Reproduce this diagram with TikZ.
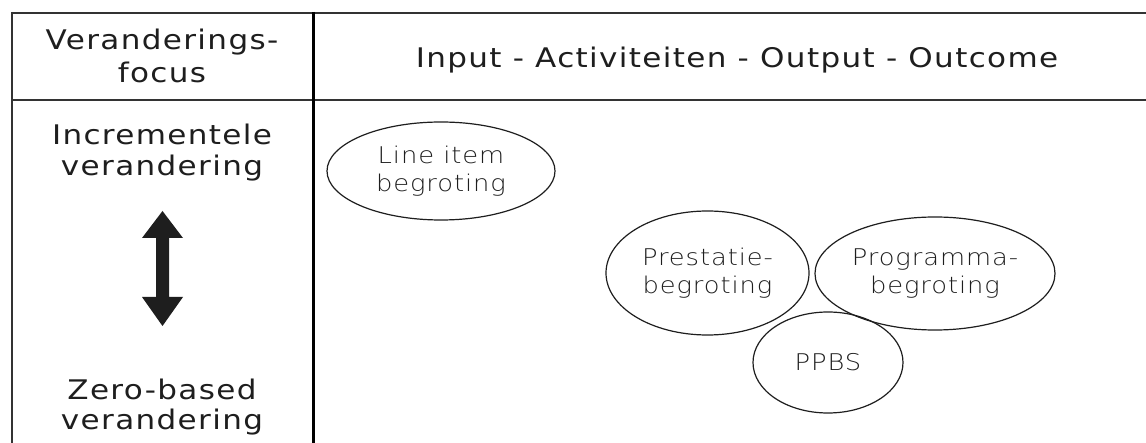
\documentclass[tikz,border=0pt]{standalone}
\usepackage{fontspec}
\usetikzlibrary{shapes.geometric}
% wide, loosely spaced sans for the table texts
\newfontfamily\hdfont[FakeStretch=1.15,LetterSpace=5]{DejaVu Sans}
% thin sans for the budget types
\newfontfamily\elfont[FakeStretch=1.12,LetterSpace=4]{DejaVu Sans ExtraLight}
\definecolor{ink}{HTML}{1E1E1E}
\definecolor{rule}{HTML}{333333}
\begin{document}
\begin{tikzpicture}[x=1pt,y=-1pt,
  hd/.style={anchor=base,inner sep=0,text=ink,font=\hdfont\fontsize{27}{31}\selectfont},
  budget/.style={ellipse,draw=ink,line width=1.2pt,inner sep=0,align=center,
    text=ink,font=\elfont\fontsize{23}{28}\selectfont}]
  \useasboundingbox (0,0) rectangle (1146,443);
  \fill[white] (0,0) rectangle (1146,443);

  % table rules
  \draw[rule,line width=2.4pt] (12,13) -- (1146,13);
  \draw[rule,line width=2pt] (12,100) -- (1146,100);
  \draw[rule,line width=1.6pt] (12,12) -- (12,443);
  \draw[black,line width=3pt] (313,12) -- (313,443);

  % header row
  \node[hd] (hA) at (162,50) {Veranderings-};
  \node[hd] (hB) at (162,83) {focus};
  \node[hd] (hC) at (737,68) {Input - Activiteiten - Output - Outcome};

  % change focus axis
  \node[hd] (iA) at (162,145) {Incrementele};
  \node[hd] (iB) at (162,176) {verandering};
  \node[hd] (zA) at (162,400) {Zero-based};
  \node[hd] (zB) at (162,430) {verandering};
  \fill[ink] (162.5,211) -- (183,238) -- (169,238) -- (169,297) -- (183,297)
    -- (162.5,326) -- (142,297) -- (156,297) -- (156,238) -- (142,238) -- cycle;

  % budget types
  \node[budget,minimum width=228,minimum height=98] (li) at (441,171) {Line item\\begroting};
  \node[budget,minimum width=203,minimum height=124] (pr) at (707.5,273) {Prestatie-\\begroting};
  \node[budget,minimum width=240,minimum height=113] (pg) at (935,273.5) {Programma-\\begroting};
  \node[budget,minimum width=150,minimum height=101] (pp) at (828,362.5) {PPBS};
\end{tikzpicture}
\end{document}
